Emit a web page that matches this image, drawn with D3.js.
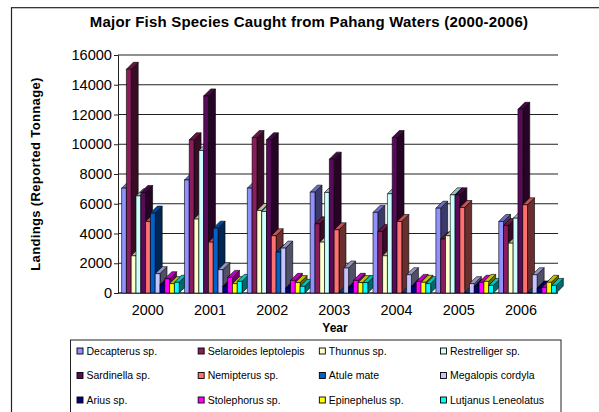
<!DOCTYPE html>
<html><head><meta charset="utf-8">
<script src="https://cdn.jsdelivr.net/npm/d3@7"></script>
<style>html,body{margin:0;padding:0;background:#fff}svg{display:block}text{font-family:"Liberation Sans",Arial,sans-serif;fill:#000}</style>
</head><body><svg id="c" width="599" height="412"></svg>
<script>
const years = ["2000","2001","2002","2003","2004","2005","2006"];
const species = ["Decapterus sp.","Selaroides leptolepis","Thunnus sp.","Restrelliger sp.","Sardinella sp.","Nemipterus sp.","Atule mate","Megalopis cordyla","Arius sp.","Stolephorus sp.","Epinephelus sp.","Lutjanus Leneolatus"];
const colors = ["#9090FF","#8A1E5C","#FFFFCC","#CCFFFF","#5A0A5A","#FF7070","#0060CC","#C4C4FF","#000080","#FF00FF","#FFFF00","#00FFFF"];
const yTicks = [0,2000,4000,6000,8000,10000,12000,14000,16000];
const decapterus = [7050,7600,7050,6780,5420,5700,4810];
const selaroides = [15040,10300,10450,4650,4140,3630,4540];
const thunnus = [2500,4970,5550,3420,2500,3850,3350];
const restrelliger = [6530,9580,5480,6760,6670,6600,5030];
const sardinella = [6760,13250,10300,9000,10450,6600,12350];
const nemipterus = [4810,3420,3850,4250,4810,5750,5930];
const atule = [5370,4360,2750,50,30,20,20];
const megalopis = [1300,1570,3020,1680,1230,630,1230];
const arius = [560,450,340,400,450,450,340];
const stolephorus = [960,1050,850,850,780,720,380];
const epinephelus = [630,630,700,700,720,780,720];
const lutjanus = [720,780,450,700,630,510,510];
const seriesValues = [decapterus,selaroides,thunnus,restrelliger,sardinella,nemipterus,atule,megalopis,arius,stolephorus,epinephelus,lutjanus];

const svg = d3.select("#c");
const depth = 7;
const plot = {l:118, r:558, t:55, b:293};
const x = d3.scaleBand().domain(years).range([plot.l,plot.r]);
const inner = d3.scaleBand().domain(species).range([3.6,3.6+57.6]);
const y = d3.scaleLinear().domain([0,16000]).range([plot.b,plot.t]);
const xLabel = d3.scalePoint().domain(years).range([147.7,521]);

// chart frame
svg.append("rect").attr("x",11.5).attr("y",7.7).attr("width",640).attr("height",460)
  .attr("fill","#fff").attr("stroke","#222").attr("stroke-width",1.2);

svg.append("text").attr("x",309).attr("y",27).attr("text-anchor","middle")
  .attr("font-size",15).attr("letter-spacing",0.2).attr("font-weight","bold").text("Major Fish Species Caught from Pahang Waters (2000-2006)");

// grid
svg.append("g").selectAll("line").data(yTicks).join("line")
  .attr("x1",plot.l).attr("x2",plot.r).attr("y1",d=>y(d)).attr("y2",d=>y(d))
  .attr("stroke","#222").attr("stroke-width",1.1);

// axes
const axisY = d3.axisLeft(y).tickValues(yTicks).tickFormat(d=>d).tickSize(4).tickPadding(2);
const gy = svg.append("g").attr("transform",`translate(${plot.l},0)`).call(axisY);
gy.selectAll("text").attr("font-size",14.6).attr("fill","#000");
gy.selectAll("path,line").attr("stroke","#222");
svg.append("line").attr("x1",plot.l).attr("x2",plot.r).attr("y1",plot.b).attr("y2",plot.b).attr("stroke","#222");
svg.append("g").selectAll("text").data(years).join("text")
  .attr("x",d=>xLabel(d)).attr("y",315).attr("text-anchor","middle").attr("font-size",14.4).text(d=>d);

// 3D bars, drawn left to right so later bars overlap earlier sides
const bars = [];
years.forEach((yr,i)=>species.forEach((s,j)=>bars.push({yr,s,j,v:seriesValues[j][i]})));
const g = svg.append("g").attr("stroke","#000").attr("stroke-width",0.6).attr("stroke-linejoin","round");
const barG = g.selectAll("g").data(bars).join("g");
const w = inner.bandwidth();
const X = d=>x(d.yr)+inner(d.s);
barG.append("path").attr("fill",d=>d3.color(colors[d.j]).darker(2.5))
  .attr("d",d=>`M${X(d)+w},${plot.b}V${y(d.v)}l${depth},${-depth}V${plot.b-depth}Z`);
barG.append("path").attr("fill",d=>d3.color(colors[d.j]).darker(0.8))
  .attr("d",d=>`M${X(d)},${y(d.v)}l${depth},${-depth}h${w}l${-depth},${depth}Z`);
barG.append("rect").attr("fill",d=>colors[d.j])
  .attr("x",X).attr("y",d=>y(d.v)).attr("width",w).attr("height",d=>plot.b-y(d.v));

// axis titles
svg.append("text").attr("x",335).attr("y",332).attr("text-anchor","middle")
  .attr("font-size",12).attr("font-weight","bold").text("Year");
svg.append("text").attr("transform","translate(40,174) rotate(-90)").attr("text-anchor","middle")
  .attr("font-size",13).attr("letter-spacing",0.35).attr("font-weight","bold").text("Landings (Reported Tonnage)");

// legend
svg.append("rect").attr("x",70.5).attr("y",340).attr("width",490.5).attr("height",100)
  .attr("fill","#fff").attr("stroke","#222").attr("stroke-width",1);
const legendX = d3.scalePoint().domain(d3.range(4)).range([77,440.5]);
const legendY = d3.scalePoint().domain(d3.range(3)).range([351,400]);
const lg = svg.append("g").selectAll("g").data(species).join("g")
  .attr("transform",(d,i)=>`translate(${legendX(i%4)},${legendY(Math.floor(i/4))})`);
lg.append("rect").attr("x",0).attr("y",-3).attr("width",6).attr("height",6)
  .attr("fill",(d,i)=>colors[i]).attr("stroke","#000").attr("stroke-width",0.9);
lg.append("text").attr("x",9.5).attr("y",3.5).attr("font-size",10.5).text(d=>d);
</script></body></html>
